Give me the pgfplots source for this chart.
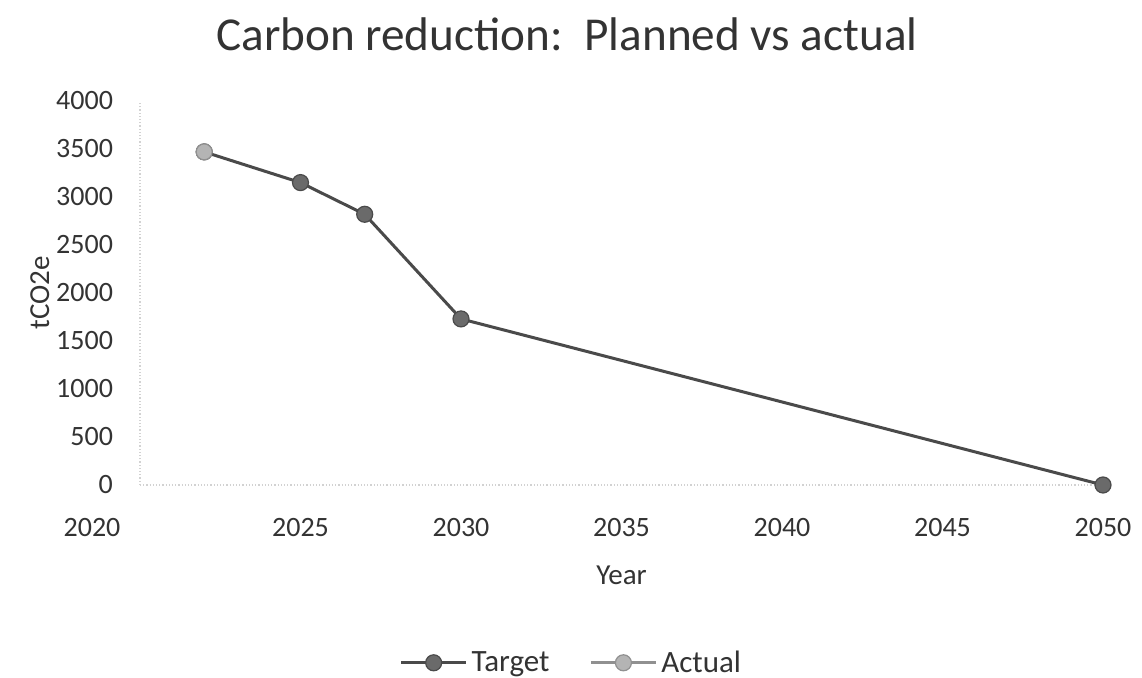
\documentclass[border=0pt]{standalone}
\usepackage{fontspec}
\setmainfont{Carlito}
\usepackage{pgfplots}
\pgfplotsset{compat=1.18}
\definecolor{tgt}{HTML}{6A6A6A}
\definecolor{tgtline}{HTML}{4A4A4A}
\definecolor{act}{HTML}{B4B4B4}
\definecolor{txt}{HTML}{333333}
\begin{document}
\begin{tikzpicture}
\path[use as bounding box] (0pt,0pt) rectangle (571pt,339pt);
\node[font=\fontsize{23.6}{27}\selectfont, text=txt] at (283.5pt, 322pt) {Carbon reduction:\ \ Planned vs actual};
\begin{axis}[
  at={(70pt,96.5pt)}, anchor=south west,
  scale only axis, width=481.5pt, height=192pt,
  xmin=2020, xmax=2050, ymin=0, ymax=4000,
  xtick={2025,2030,...,2050}, ytick={0,500,...,4000},
  extra x ticks={2020},
  extra x tick style={xticklabel style={xshift=-24pt}},
  /pgf/number format/1000 sep={},
  /pgf/number format/assume math mode=true,
  axis x line*=bottom, axis y line*=left,
  axis line style={draw=gray!35, densely dotted, line width=0.6pt},
  major tick length=0pt,
  tick label style={font=\fontsize{14}{16}\selectfont, text=txt},
  xticklabel shift=13pt, yticklabel shift=10pt,
  xlabel={Year}, ylabel={tCO2e},
  label style={font=\fontsize{14.5}{16}\selectfont, text=txt},
  xlabel style={at={(axis description cs:0.5,0)}, anchor=center, yshift=-45pt},
  ylabel style={at={(axis description cs:-0.104,0.5)}, anchor=center},
  legend style={at={(axis description cs:0.449,-0.463)}, anchor=center, draw=none, fill=none,
    font=\fontsize{15.5}{17}\selectfont, text=txt, legend columns=2,
    /tikz/every even column/.append style={column sep=18pt}},
  legend image code/.code={%
    \draw[mark repeat=2,mark phase=2] plot coordinates {(0cm,0cm) (0.57cm,0cm) (1.14cm,0cm)};},
  clip=false,
]
\addplot[color=tgtline, line width=1.5pt, mark=*, mark size=4pt, mark options={fill=tgt, draw=tgt!70!black, line width=0.6pt}]
  coordinates {(2022,3470) (2025,3150) (2027,2820) (2030,1730) (2050,0)};
\addlegendentry{Target}
\addplot[color=act!80!black, line width=1.5pt, mark=*, mark size=4pt, mark options={fill=act, draw=act!80!black, line width=0.6pt}]
  coordinates {(2022,3470)};
\addlegendentry{Actual}
\end{axis}
\end{tikzpicture}
\end{document}
